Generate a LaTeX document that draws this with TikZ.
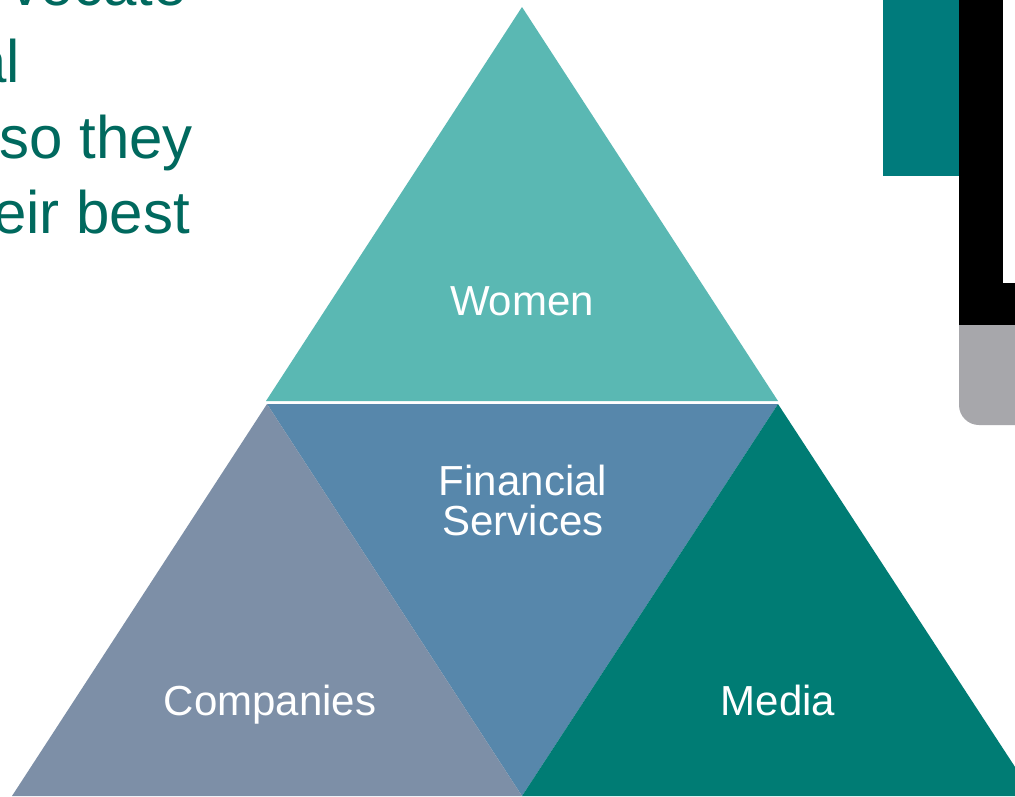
\documentclass[tikz,border=0pt]{standalone}
\usepackage{fontspec}
\setmainfont{Liberation Sans}
\definecolor{topteal}{HTML}{5AB8B3}
\definecolor{midblue}{HTML}{5787AB}
\definecolor{leftgray}{HTML}{7D8FA7}
\definecolor{darkteal}{HTML}{007C74}
\definecolor{rectteal}{HTML}{007B7C}
\definecolor{devgray}{HTML}{A7A7AB}
\definecolor{txtteal}{HTML}{00695E}
\tikzset{
  headline/.style={anchor=base east,inner sep=0pt,text=txtteal,font=\fontsize{60}{75}\selectfont},
  tlabel/.style={anchor=base,inner sep=0pt,text=white,align=center,font=\fontsize{42}{40}\selectfont}
}
\begin{document}
\begin{tikzpicture}[x=1pt,y=-1pt]
\useasboundingbox (0,0) rectangle (1015,796);
\clip (0,0) rectangle (1015,796);
\fill[white] (0,0) rectangle (1015,796);
% top-right decoration
\fill[rectteal] (883,0) rectangle (959,176);
\fill[black] (959,0) rectangle (1015,325);
\fill[white] (1003,0) rectangle (1015,283);
\fill[devgray,rounded corners=20pt] (959,325) rectangle (1060,425);
\fill[devgray] (959,325) rectangle (1015,360);
% triangles
\fill[topteal] (522,7) -- (778,401) -- (266,401) -- cycle;
\fill[midblue] (267,404) -- (778,404) -- (522,796) -- cycle;
\fill[leftgray] (267,404) -- (522,796) -- (12,796) -- cycle;
\fill[darkteal] (778,404) -- (1034,796) -- (522,796) -- cycle;
% headline text
\node[headline] (h1) at (187,5) {vocate};
\node[headline] (h2) at (20,82) {al};
\node[headline] (h3) at (193,158) {so they};
\node[headline] (h4) at (190,233) {eir best};
% labels
\node[tlabel] (women) at (522,315) {Women};
\node[tlabel] (fin) at (523,535) {Financial\\Services};
\node[tlabel] (comp) at (270,715) {Companies};
\node[tlabel] (media) at (778,715) {Media};
\end{tikzpicture}
\end{document}
